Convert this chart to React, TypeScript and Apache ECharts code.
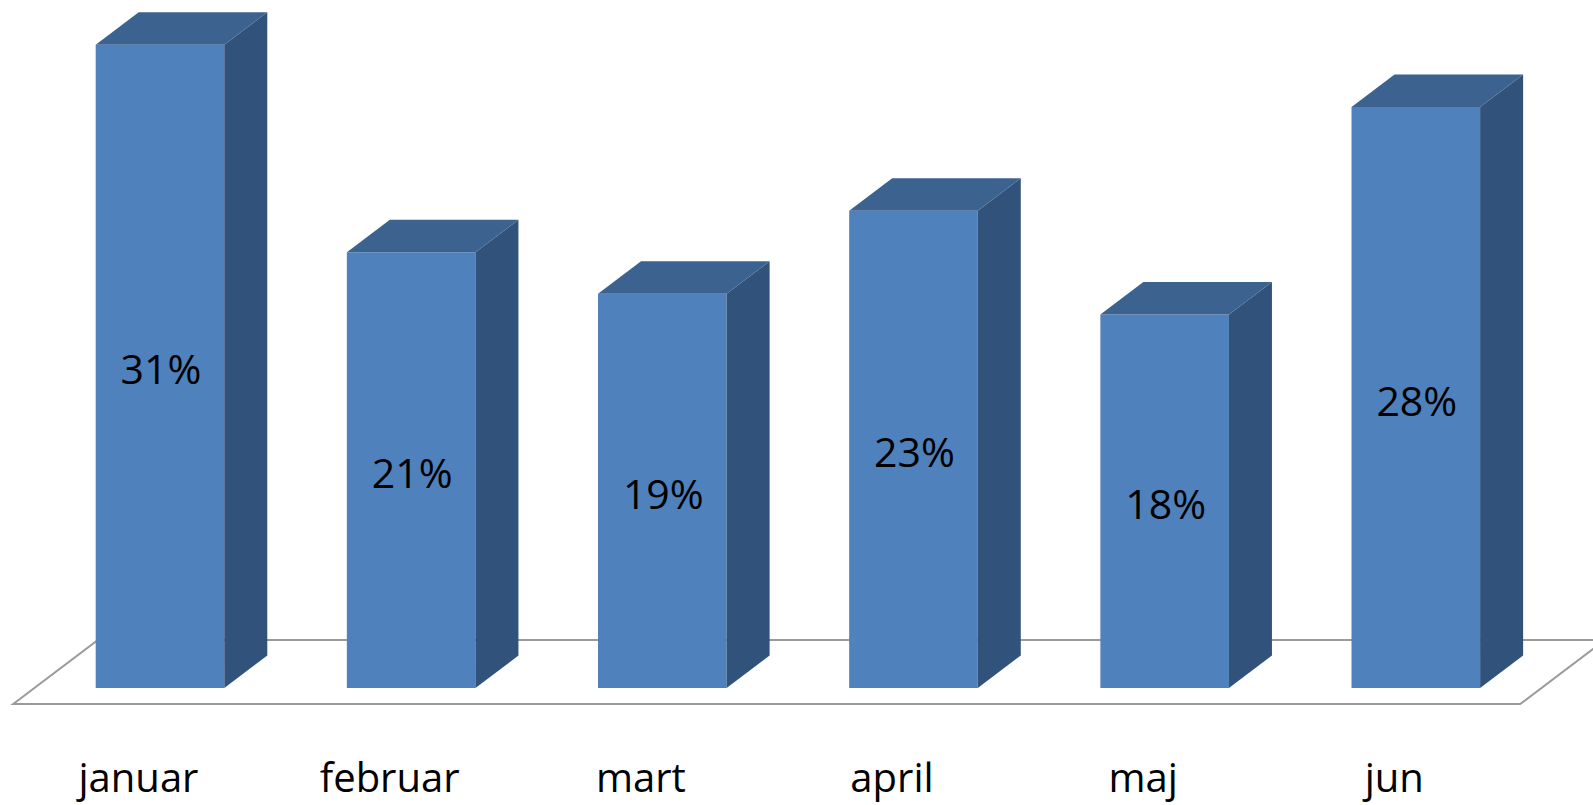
import React, { useEffect, useRef } from "react";
import * as echarts from "echarts";

const categories = ["januar", "februar", "mart", "april", "maj", "jun"];
const values = [31, 21, 19, 23, 18, 28];
const valueMax = 32;

const FRONT = "#4F81BD";
const TOP = "#3C6390";
const SIDE = "#31527A";
const FLOOR_LINE = "#9a9a9a";
const DX = 43;
const DY = -32.5;
const BAR_RATIO = 0.512;

export default function App() {
  const ref = useRef<HTMLDivElement>(null);
  useEffect(() => {
    if (!ref.current) return;
    const chart = echarts.init(ref.current, null, { renderer: "svg" });
    const n = categories.length;
    const option: any = {
      animation: false,
      grid: { left: 34.4, right: 51.6, top: 24, bottom: 117 },
      xAxis: {
        type: "category",
        data: categories,
        axisLine: { show: false },
        axisTick: { show: false },
        splitLine: { show: false },
        axisLabel: {
          margin: 68,
          fontSize: 40,
          fontFamily: "Open Sans",
          color: "#000",
          padding: [0, 43, 0, 0],
        },
      },
      yAxis: { type: "value", min: 0, max: valueMax, show: false },
      series: [
        {
          type: "custom",
          silent: true,
          data: [[0, 0]],
          renderItem: (params: any, api: any) => {
            const band = api.size([1, 0])[0];
            const p0 = api.coord([0, 0]);
            const pN = api.coord([n - 1, 0]);
            const left = p0[0] - band / 2;
            const right = pN[0] + band / 2;
            const y = p0[1];
            const k = DX / -DY;
            const fy = y + 16;
            const by = y - 48;
            return {
              type: "polygon",
              shape: {
                points: [
                  [left - 16 * k, fy],
                  [right - 16 * k, fy],
                  [right + 48 * k, by],
                  [left + 48 * k, by],
                ],
              },
              style: { fill: "#fff", stroke: FLOOR_LINE, lineWidth: 2 },
            };
          },
        },
        {
          type: "custom",
          data: values.map((v, i) => [i, v]),
          renderItem: (params: any, api: any) => {
            const i = api.value(0);
            const v = api.value(1);
            const band = api.size([1, 0])[0];
            const w = band * BAR_RATIO;
            const p0 = api.coord([i, 0]);
            const p1 = api.coord([i, v]);
            const xL = p0[0] - w / 2;
            const xR = p0[0] + w / 2;
            const yT = p1[1];
            const yB = p0[1];
            return {
              type: "group",
              children: [
                {
                  type: "rect",
                  shape: { x: xL, y: yT, width: w, height: yB - yT },
                  style: { fill: FRONT },
                },
                {
                  type: "polygon",
                  shape: {
                    points: [
                      [xR, yT],
                      [xR + DX, yT + DY],
                      [xR + DX, yB + DY],
                      [xR, yB],
                    ],
                  },
                  style: { fill: SIDE },
                },
                {
                  type: "polygon",
                  shape: {
                    points: [
                      [xL, yT],
                      [xL + DX, yT + DY],
                      [xR + DX, yT + DY],
                      [xR, yT],
                    ],
                  },
                  style: { fill: TOP },
                },
                {
                  type: "text",
                  style: {
                    text: v + "%",
                    x: p0[0] + 1,
                    y: (yT + yB) / 2 + 2,
                    align: "center",
                    verticalAlign: "middle",
                    fontSize: 41,
                    fontFamily: "Open Sans",
                    fill: "#000",
                  },
                },
              ],
            };
          },
        },
      ],
    };
    chart.setOption(option);
    return () => chart.dispose();
  }, []);
  return (
    <div
      ref={ref}
      style={{ position: "absolute", left: 0, top: 0, width: 1593, height: 805, background: "#fff" }}
    />
  );
}
